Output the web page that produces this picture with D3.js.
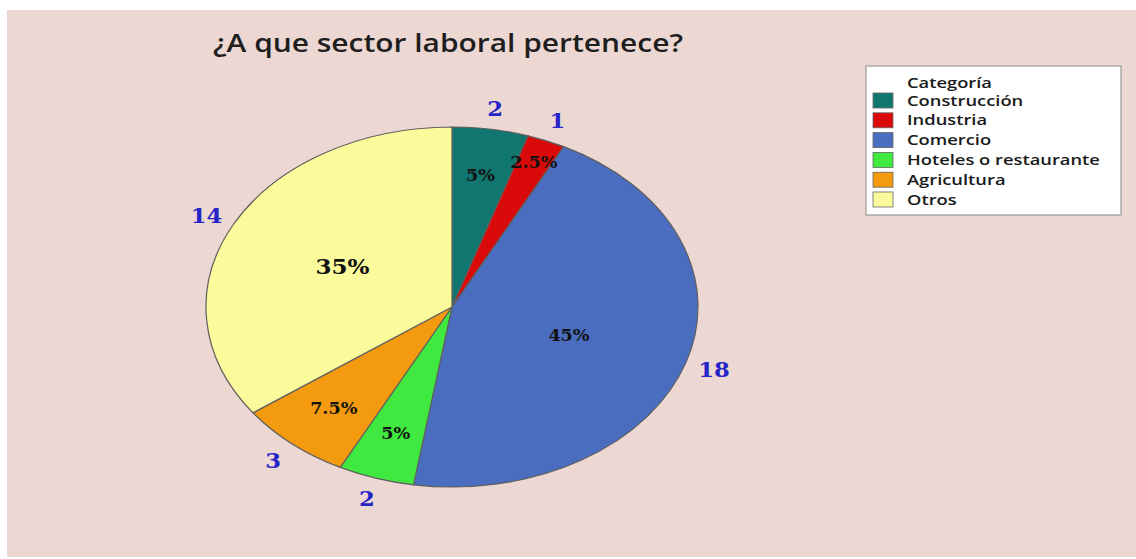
<!DOCTYPE html>
<html><head><meta charset="utf-8">
<script src="https://cdn.jsdelivr.net/npm/d3@7"></script>
<style>
html,body{margin:0;padding:0;background:#fff;}
svg{display:block;}
</style></head>
<body>
<svg id="chart" width="1136" height="559"></svg>
<script>
// ---- data ----
const categories = ["Construcción","Industria","Comercio","Hoteles o restaurante","Agricultura","Otros"];
const counts = [2, 1, 18, 2, 3, 14];
const percentLabels = ["5%","2.5%","45%","5%","7.5%","35%"];
const titleText = "¿A que sector laboral pertenece?";
const legendTitle = "Categoría";

// ---- style ----
const colors = ["#11766F","#DA0A0A","#4B6DBF","#3FE93F","#F39A0E","#FCFB9C"];
const bg = "#ECD7D2";
const W = 1136, H = 559;
const cx = 452, cy = 307, ry = 180, rx = 246;

const svg = d3.select("#chart");
svg.append("rect").attr("x",0).attr("y",0).attr("width",W).attr("height",H).attr("fill","#fff");
svg.append("rect").attr("x",7).attr("y",10).attr("width",W-7).attr("height",H-12).attr("fill",bg);

// title
svg.append("text").attr("x",448).attr("y",52).attr("text-anchor","middle")
  .attr("font-family","'Open Sans', sans-serif").attr("font-weight",600)
  .attr("font-size",26).attr("fill","#1e1e1e")
  .attr("textLength",470).attr("lengthAdjust","spacingAndGlyphs")
  .text(titleText);

// pie
const pie = d3.pie().value(d=>d).sort(null);
const arcs = pie(counts);
const arc = d3.arc().innerRadius(0).outerRadius(ry);
const g = svg.append("g").attr("transform",`translate(${cx},${cy}) scale(${rx/ry},1)`);
g.selectAll("path").data(arcs).join("path")
  .attr("d",arc).attr("fill",(d,i)=>colors[i])
  .attr("stroke","#5f5f5f").attr("stroke-width",1.2)
  .attr("vector-effect","non-scaling-stroke");

const total = d3.sum(counts);
function pt(d, r){
  const a = (d.startAngle + d.endAngle)/2;
  return [cx + rx*r*Math.sin(a), cy - ry*r*Math.cos(a)];
}
function pctRadius(v){
  const f = v/total;
  if (f > 0.3) return 0.5;
  if (f < 0.03) return 0.87;
  return 0.74;
}
// percent labels
svg.append("g").selectAll("text").data(arcs).join("text")
  .attr("transform",d=>{const p=pt(d,pctRadius(d.value)); return `translate(${p[0]},${p[1]}) scale(1.1,1)`;})
  .attr("text-anchor","middle").attr("dominant-baseline","central")
  .attr("font-family","'DejaVu Serif', serif").attr("font-weight","bold")
  .attr("font-size",(d,i)=> d.value/total>0.34 && d.value/total<0.4 ? 21 : 16)
  .attr("fill","#121212")
  .text((d,i)=>percentLabels[i]);

// count labels
svg.append("g").selectAll("text").data(arcs).join("text")
  .attr("transform",d=>{const p=pt(d,1.12); return `translate(${p[0]},${p[1]}) scale(1.08,1)`;})
  .attr("text-anchor","middle").attr("dominant-baseline","central")
  .attr("font-family","'DejaVu Serif', serif").attr("font-weight","bold")
  .attr("font-size",21).attr("fill","#2424C8")
  .text((d,i)=>counts[i]);

// legend
const lg = svg.append("g");
lg.append("rect").attr("x",866).attr("y",66).attr("width",255).attr("height",149)
  .attr("fill","#fff").attr("stroke","#9a9a9a").attr("stroke-width",1.2);
const legText = [];
legText.push(lg.append("text")
  .attr("transform","translate(907,88)")
  .attr("font-family","'Open Sans', sans-serif").attr("font-weight",600).attr("font-size",14).attr("fill","#1a1a1a")
  .text(legendTitle));
const rowY = d3.scaleLinear().domain([0,categories.length-1]).range([93,192]);
categories.forEach((c,i)=>{
  lg.append("rect").attr("x",873).attr("y",rowY(i)).attr("width",20).attr("height",15)
    .attr("fill",colors[i]).attr("stroke","#666").attr("stroke-width",0.8);
  legText.push(lg.append("text").attr("transform",`translate(907,${rowY(i)+12.5})`)
    .attr("font-family","'Open Sans', sans-serif").attr("font-weight",600).attr("font-size",14).attr("fill","#1a1a1a")
    .text(c));
});
// stretch legend text so the longest label spans its width in the reference
const longest = legText[4].node().getComputedTextLength();
const k = 193/longest;
legText.forEach(t=>{
  const tr = t.attr("transform");
  t.attr("transform", tr + ` scale(${k},1)`);
});
</script>
</body></html>
